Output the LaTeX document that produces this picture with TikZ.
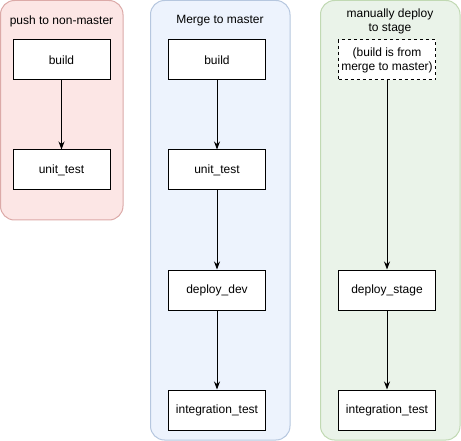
\documentclass[tikz,border=0pt]{standalone}
\usepackage{fontspec}
\setmainfont{Liberation Sans}
\usetikzlibrary{arrows.meta}
\definecolor{redfill}{HTML}{FCE6E5}
\definecolor{reddraw}{HTML}{DCAAA8}
\definecolor{bluefill}{HTML}{EDF3FD}
\definecolor{bluedraw}{HTML}{B6C7DF}
\definecolor{greenfill}{HTML}{EAF3E9}
\definecolor{greendraw}{HTML}{C1D9B3}
\tikzset{
  lane/.style={rounded corners=14pt, line width=1pt},
  job/.style={draw, fill=white, line width=1pt, minimum width=97pt, minimum height=40pt, inner sep=0pt},
  every node/.style={font=\fontsize{12}{14}\selectfont},
  every edge/.style={draw, line width=1pt, -{Stealth[length=8pt,width=6pt]}}
}
\begin{document}
\begin{tikzpicture}[x=1pt,y=-1pt]
\useasboundingbox (0,0) rectangle (461,441);
\draw [lane, fill=redfill, draw=reddraw] (0.5,0.5) rectangle (123,220);
\draw [lane, fill=bluefill, draw=bluedraw] (150.5,0.5) rectangle (290,440);
\draw [lane, fill=greenfill, draw=greendraw] (320.5,0.5) rectangle (460,440);
\node (t0) at (61.5,21) {push to non-master};
\node (t1) at (220,21) {Merge to master};
\node [align=center] (t2) at (390,21) {manually deploy\\to stage};
\node [job] (a1) at (61.5,60) {build};
\node [job] (a2) at (61.5,170) {unit\_test};
\node [job] (b1) at (217,60) {build};
\node [job] (b2) at (217,170) {unit\_test};
\node [job] (b3) at (217,290) {deploy\_dev};
\node [job] (b4) at (217,410) {integration\_test};
\node [job, dashed, align=center] (c1) at (387,60) {(build is from\\merge to master)};
\node [job] (c2) at (387,290) {deploy\_stage};
\node [job] (c3) at (387,410) {integration\_test};
\draw (a1) edge (a2);
\draw (b1) edge (b2);
\draw (b2) edge (b3);
\draw (b3) edge (b4);
\draw (c1) edge (c2);
\draw (c2) edge (c3);
\end{tikzpicture}
\end{document}
